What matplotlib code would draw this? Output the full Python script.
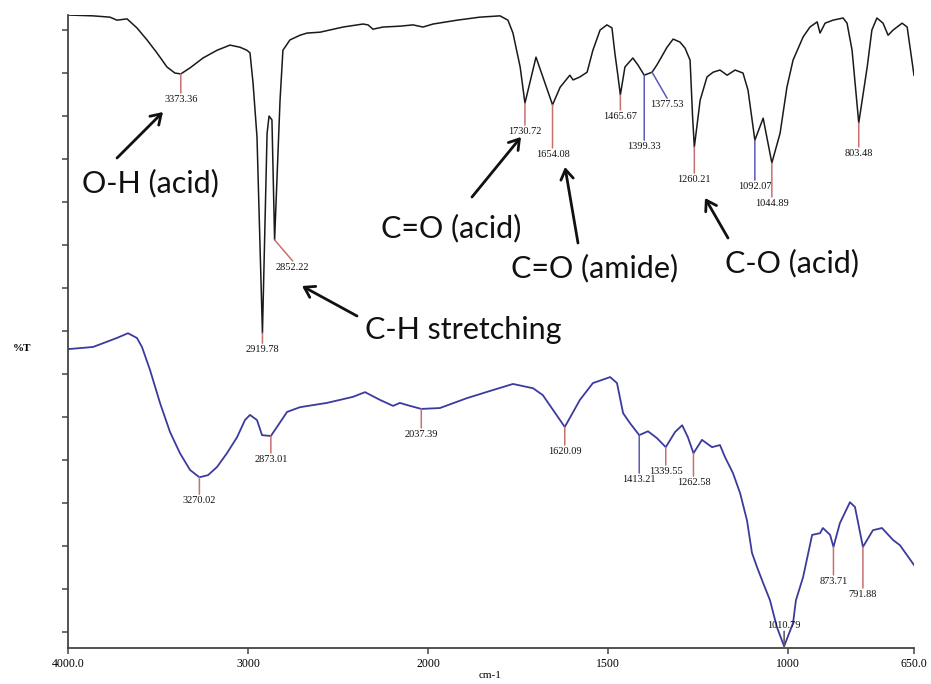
import numpy as np
import matplotlib
matplotlib.use('Agg')
import matplotlib.pyplot as plt

# sample spectrum (black, top)
top_wn = [4000, 3861, 3767, 3728, 3672, 3617, 3561, 3506, 3450, 3406, 3373.36, 3322, 3250, 3172,
          3100, 3044, 3006, 2989, 2972, 2950, 2919.78, 2894, 2883, 2867, 2852.22, 2822, 2806, 2767,
          2711, 2672, 2600, 2472, 2361, 2333, 2306, 2250, 2156, 2083, 2028, 1986, 1919, 1856, 1800,
          1778, 1764, 1744, 1730.72, 1700, 1654.08, 1633, 1606, 1597, 1578, 1558, 1542, 1522, 1503,
          1489, 1481, 1472, 1465.67, 1453, 1431, 1417, 1399.33, 1377.53, 1364, 1336, 1319, 1300,
          1286, 1272, 1265, 1260.21, 1244, 1225, 1208, 1189, 1169, 1147, 1125, 1111, 1092.07, 1069,
          1044.89, 1022, 1003, 986, 958, 939, 919, 911, 897, 875, 847, 836, 822, 803.48, 780, 767,
          753, 736, 722, 708, 683, 669, 650]
top_t = [143.5, 143.3, 143.0, 142.3, 142.6, 140.5, 137.7, 134.7, 131.4, 130.0, 129.8, 131.2, 133.5,
         135.3, 136.5, 136.0, 135.3, 134.7, 127.7, 115.1, 69.5, 116.0, 120.0, 119.1, 91.2, 123.7,
         135.3, 137.7, 138.8, 139.3, 139.5, 140.7, 141.4, 141.2, 140.2, 140.7, 140.9, 141.2, 140.7,
         141.4, 142.3, 143.0, 143.3, 142.3, 139.3, 131.4, 123.0, 133.7, 122.6, 126.7, 129.5, 128.4,
         129.1, 130.2, 135.3, 140.0, 141.2, 140.5, 134.7, 129.1, 124.9, 131.4, 133.5, 131.9, 129.5,
         130.2, 131.9, 136.0, 137.9, 137.2, 135.8, 133.0, 119.8, 112.8, 123.7, 129.1, 130.2, 130.7,
         129.5, 130.7, 130.0, 126.0, 114.4, 119.5, 109.1, 116.0, 126.7, 133.0, 138.4, 140.7, 141.9,
         139.3, 141.6, 142.3, 142.8, 141.6, 135.3, 118.4, 131.4, 140.0, 142.8, 141.6, 138.8, 140.0,
         141.6, 140.7, 129.5]

# reference spectrum (blue, bottom)
bot_wn = [4000, 3861, 3728, 3667, 3617, 3589, 3544, 3489, 3433, 3378, 3322, 3270.02, 3222, 3172,
          3117, 3061, 3017, 2989, 2950, 2922, 2873.01, 2839, 2783, 2711, 2561, 2417, 2350, 2267,
          2194, 2156, 2117, 2037.39, 1967, 1892, 1819, 1764, 1708, 1681, 1620.09, 1578, 1542, 1494,
          1475, 1458, 1439, 1413.21, 1389, 1364, 1339.55, 1314, 1294, 1278, 1262.58, 1239, 1211,
          1189, 1175, 1153, 1133, 1114, 1100, 1086, 1069, 1050, 1031, 1010.79, 986, 978, 958, 933,
          911, 903, 883, 873.71, 856, 828, 814, 791.88, 764, 739, 708, 689, 650]
bot_t = [65.8, 66.3, 68.4, 69.5, 68.4, 66.3, 60.9, 53.3, 46.5, 41.6, 37.7, 36.0, 36.5, 38.4, 41.6,
         45.3, 49.3, 50.5, 49.3, 45.8, 45.6, 47.7, 51.2, 52.3, 53.3, 54.7, 55.8, 54.0, 52.6, 53.3,
         52.8, 51.9, 52.1, 54.4, 56.3, 57.7, 56.7, 55.1, 47.7, 54.0, 57.9, 59.3, 57.9, 50.9, 48.6,
         45.8, 46.7, 45.1, 43.0, 46.5, 48.1, 45.3, 41.6, 44.7, 43.0, 43.5, 40.7, 37.0, 32.3, 26.0,
         18.4, 15.1, 11.4, 7.4, 1.2, -3.3, 2.1, 7.4, 12.8, 22.6, 23.0, 24.2, 22.6, 19.8, 25.3, 30.2,
         29.1, 19.8, 23.7, 24.2, 21.4, 20.2, 15.6]

top_peaks = [3373.36, 2919.78, 2852.22, 1730.72, 1654.08, 1465.67, 1399.33, 1377.53, 1260.21,
             1092.07, 1044.89, 803.48]
bot_peaks = [3270.02, 2873.01, 2037.39, 1620.09, 1413.21, 1339.55, 1262.58, 1010.79, 873.71, 791.88]

# peak tick styling: (length px, colour, slant dx px)
RED = '#c8706e'
BLU = '#5a5ab8'
top_style = [(19, RED, 0), (10, RED, 0), (21, RED, 18), (22, RED, 0), (43, RED, 0), (15, RED, 0),
             (65, BLU, 0), (26, BLU, 15), (26, RED, 0), (40, BLU, 0), (34, RED, 0), (24, RED, 0)]
bot_style = [(17, RED, 0), (17, RED, 0), (19, RED, 0), (18, RED, 0), (38, BLU, 0), (18, RED, 0),
             (23, RED, 0), (-15, '#555555', 0), (28, RED, 0), (41, RED, 0)]

groups = [('O-H (acid)', (150, 183), (117, 158), (163, 112)),
          ('C-H stretching', (463, 330), (357, 316), (302, 286)),
          ('C=O (acid)', (451, 228), (472, 197), (521, 137)),
          ('C=O (amide)', (595, 268), (578, 243), (565, 167)),
          ('C-O (acid)', (792, 263), (728, 238), (705, 198))]

W, H = 931, 684
fig = plt.figure(figsize=(W / 100, H / 100), dpi=100)
ax = fig.add_axes([68 / W, 1 - 648 / H, 846 / W, 633 / H])


def fwd(w):
    w = np.asarray(w, dtype=float)
    return np.where(w >= 2000, w, 2 * w - 2000)


def inv(u):
    u = np.asarray(u, dtype=float)
    return np.where(u >= 2000, u, (u + 2000) / 2)


ax.set_xscale('function', functions=(fwd, inv))
ax.set_xlim(4000, 650)
ax.set_ylim(-3.7, 143.5)

ax.plot(top_wn, top_t, color='#1a1a1a', lw=1.1)
ax.plot(bot_wn, bot_t, color='#3b3b9e', lw=1.3)

serif = 'Liberation Serif'
PT = 0.72  # points per pixel


def mark(wn, wn_list, t_list, style):
    length, col, dx = style
    y = np.interp(-wn, -np.array(wn_list), t_list)
    ax.annotate('', xy=(wn, y), xytext=(dx * PT, -length * PT), textcoords='offset points',
                arrowprops=dict(arrowstyle='-', color=col, lw=1.1, shrinkA=0, shrinkB=0))
    if length > 0:
        ax.annotate(f'{wn:.2f}', xy=(wn, y), xytext=(dx * PT, -(length + 2) * PT),
                    textcoords='offset points', ha='center', va='top',
                    family=serif, fontsize=7.5, color='#111111')
    else:
        ax.annotate(f'{wn:.2f}', xy=(wn, y), xytext=(dx * PT, (-length + 1) * PT),
                    textcoords='offset points', ha='center', va='bottom',
                    family=serif, fontsize=7.5, color='#111111')


for p, s in zip(top_peaks, top_style):
    mark(p, top_wn, top_t, s)
for p, s in zip(bot_peaks, bot_style):
    mark(p, bot_wn, bot_t, s)


def px(x, y):
    return (x / W, 1 - y / H)


for label, txt_xy, tail, head in groups:
    fig.text(*px(*txt_xy), label, ha='center', va='center', family='Lato', fontsize=22,
             color='#111111')
    ax.annotate('', xy=px(*head), xycoords='figure fraction', xytext=px(*tail),
                textcoords='figure fraction',
                arrowprops=dict(arrowstyle='->,head_length=0.7,head_width=0.45', color='#111111',
                                lw=2, shrinkA=0, shrinkB=0))

for side in ['top', 'right']:
    ax.spines[side].set_visible(False)
for side in ['left', 'bottom']:
    ax.spines[side].set_color('#444444')
    ax.spines[side].set_linewidth(1.3)

ax.set_xticks([4000, 3000, 2000, 1500, 1000, 650])
ax.set_xticklabels(['4000.0', '3000', '2000', '1500', '1000', '650.0'], family=serif, fontsize=8.5)
ax.xaxis.set_minor_locator(matplotlib.ticker.NullLocator())
ax.set_yticks(np.arange(0, 141, 10))
ax.set_yticklabels([])
ax.tick_params(axis='both', direction='out', length=4, width=1.1, color='#444444', pad=3)

fig.text(*px(22, 349), '%T', family=serif, fontsize=8, fontweight='bold', ha='center', va='center')
fig.text(*px(490, 676), 'cm-1', family=serif, fontsize=8, ha='center', va='center')

fig.savefig('out.png', dpi=100)
